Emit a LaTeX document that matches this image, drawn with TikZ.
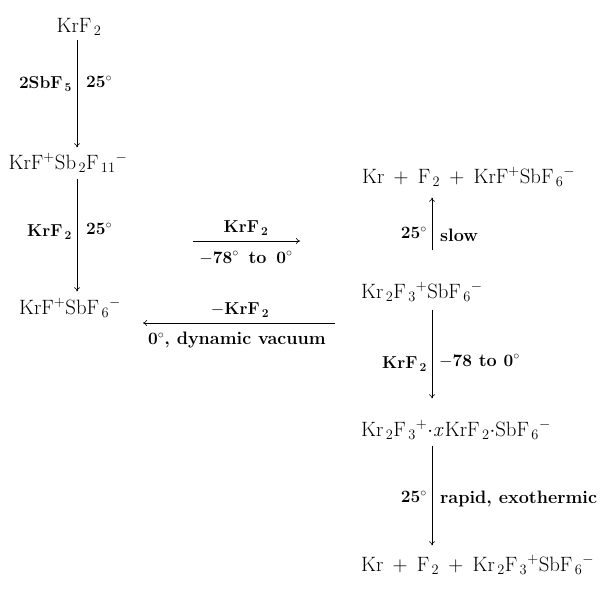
\documentclass[tikz,border=0pt]{standalone}
\usetikzlibrary{arrows.meta,calc}
\begin{document}
\begin{tikzpicture}[x=1pt,y=-1pt,
  chem/.style={font=\fontsize{20.5}{24}\selectfont, inner sep=0pt},
  lab/.style={font=\fontsize{18}{21}\selectfont\bfseries, inner sep=0pt},
  rxn/.style={line width=0.6pt, -{To[length=4pt,width=6pt]}}]
\useasboundingbox (0,0) rectangle (604,608);
\newcommand{\pl}{\mkern8mu{+}\mkern8mu}
% left column
\node[chem] (a1) at (79,27) {$\mathrm{KrF_{\,2}}$};
\node[chem] (a2) at (68,163) {$\mathrm{KrF^+Sb_{\,2}F_{\,11}{}^{-}}$};
\node[chem] (a3) at (70,308) {$\mathrm{KrF^+SbF_{\,6}{}^{-}}$};
\coordinate (lx) at (77,0);
\draw[rxn] ($(a1.south -| lx)+(0,4)$) -- ($(a2.north -| lx)+(0,-6)$);
\node[lab, anchor=east] (l1) at (72,84) {$\mathbf{2SbF_{\,5}}$};
\node[lab, anchor=west] (l2) at (86,82) {$\mathbf{25^\circ}$};
\draw[rxn] ($(a2.south -| lx)+(0,6)$) -- ($(a3.north -| lx)+(0,-7)$);
\node[lab, anchor=east] (l3) at (72,232) {$\mathbf{KrF_{\,2}}$};
\node[lab, anchor=west] (l4) at (86,229) {$\mathbf{25^\circ}$};
% horizontal arrows
\coordinate (h1s) at (193,241);
\coordinate (h1e) at (300,241);
\draw[rxn] (h1s) -- (h1e);
\node[lab] (l5) at (246,228) {$\mathbf{KrF_{\,2}}$};
\node[lab] (l6) at (246,258) {$\mathbf{-78^\circ}$ \,to\, $\mathbf{0^\circ}$};
\coordinate (h2s) at (335,323);
\coordinate (h2e) at (143,323);
\draw[rxn] (h2s) -- (h2e);
\node[lab] (l7) at (240,310) {$\mathbf{-KrF_{\,2}}$};
\node[lab] (l8) at (237,340) {$\mathbf{0^\circ}$, dynamic vacuum};
% right column
\coordinate (rx) at (432,0);
\node[chem, anchor=west] (b1) at (362,177) {$\mathrm{Kr\pl F_{\,2}\pl KrF^+SbF_{\,6}{}^{-}}$};
\node[chem, anchor=west] (b2) at (361,292) {$\mathrm{Kr_{\,2}F_{\,3}{}^{+}SbF_{\,6}{}^{-}}$};
\node[chem, anchor=west] (b3) at (361,430) {$\mathrm{Kr_{\,2}F_{\,3}{}^{+}{\cdot}\mathit{x}KrF_{\,2}{\cdot}SbF_{\,6}{}^{-}}$};
\node[chem, anchor=west] (b4) at (361,565) {$\mathrm{Kr\pl F_{\,2}\pl Kr_{\,2}F_{\,3}{}^{+}SbF_{\,6}{}^{-}}$};
\draw[rxn] ($(b2.north -| rx)+(0,-32)$) -- ($(b1.south -| rx)+(0,11)$);
\node[lab, anchor=east] (l9) at (427,233) {$\mathbf{25^\circ}$};
\node[lab, anchor=west] (l10) at (440,235) {slow};
\draw[rxn] ($(b2.south -| rx)+(0,8)$) -- ($(b3.north -| rx)+(0,-22)$);
\node[lab, anchor=east] (l11) at (427,364) {$\mathbf{KrF_{\,2}}$};
\node[lab, anchor=west] (l12) at (439,361) {$\mathbf{-78}$ to $\mathbf{0^\circ}$};
\draw[rxn] ($(b3.south -| rx)+(0,6)$) -- ($(b4.north -| rx)+(0,-10)$);
\node[lab, anchor=east] (l13) at (427,497) {$\mathbf{25^\circ}$};
\node[lab, anchor=west] (l14) at (440,499) {rapid, exothermic};
\end{tikzpicture}
\end{document}
